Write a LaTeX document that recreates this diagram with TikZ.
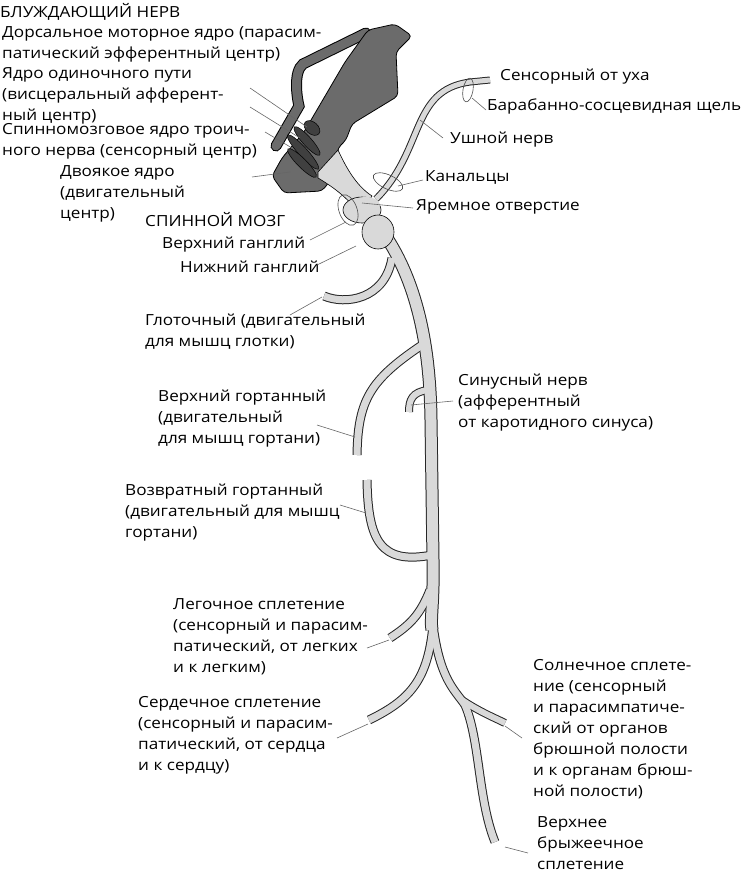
\documentclass[tikz,border=0pt]{standalone}
\usepackage{fontspec}
\setmainfont[FakeStretch=1.12]{Open Sans}
\begin{document}
\begin{tikzpicture}[x=1pt,y=-1pt,
 lab/.style={anchor=north west,inner sep=0pt,align=left,font=\fontsize{15.3}{21}\selectfont},
 lead/.style={draw=black!60,line width=0.6pt},
 nout/.style={line width=#1+2pt,draw=black!85,line cap=butt},
 nin/.style={line width=#1,draw=black!15,line cap=butt},
 dark/.style={fill=black!58,draw=black,line width=0.8pt,rounded corners=4pt}]
\useasboundingbox (0,0) rectangle (742,872);
% hook
\draw[line width=11pt,black,line cap=round] (366,33)--(303,64)..controls(293,72)and(297,98)..(299,106)--(276,146);
\draw[line width=9pt,black!58,line cap=round] (366,33)--(303,64)..controls(293,72)and(297,98)..(299,106)--(276,146);
% brain body
\draw[dark] (368,30)--(395,24)--(412,36)--(396,52)--(398,96)--(352,124)--(346,140)--(338,148)--(334,176)--(322,191)--(284,193)--(272,176)--(282,158)--(304,132)--(345,62)--cycle;
% light nerve root
\draw[fill=black!15,draw=black,line width=0.6pt] (318,172)--(338,150)..controls(345,165)and(355,185)..(372,196)--(360,215)..controls(350,200)and(335,188)..(318,178)--cycle;
\foreach \p/\a/\r/\s in {{(312,128)}/-40/9/6,{(307,141)}/-48/19/4.5,{(303,152)}/-48/23/4.5,{(302,163)}/-45/20/4.5}
 \draw[fill=black!75,draw=black,line width=0.5pt] \p ellipse[x radius=\r,y radius=\s,rotate=\a];
% ear nerve
\draw[nout=5pt] (376,199)..controls(425,150)and(410,90)..(470,82)--(490,80);
\draw[nin=5pt] (376,199)..controls(425,150)and(410,90)..(470,82)--(490,80);
% trunk and branches
\def\trunk{(385,235)..controls(415,280)and(430,340)..(431,420)--(433,560)..controls(434,600)and(430,620)..(432,630)}
\def\bphar{(392,258)..controls(385,300)and(345,305)..(324,296)}
\def\bsl{(422,345)..controls(370,380)and(358,400)..(357,455)}
\def\bsin{(428,390)..controls(412,392)and(409,400)..(409,412)}
\def\brec{(432,555)..controls(380,565)and(368,540)..(367,480)}
\def\bpul{(430,590)..controls(420,615)and(410,625)..(390,638)}
\def\bcard{(433,625)..controls(428,680)and(410,700)..(369,720)}
\def\bmain{(433,625)..controls(440,680)and(455,690)..(465,705)..controls(480,740)and(478,800)..(495,842)}
\def\bsol{(462,700)..controls(480,712)and(495,718)..(505,723)}
\foreach \w/\pp in {11pt/\trunk,7pt/\bphar,7pt/\bsl,6pt/\bsin,7pt/\brec,7pt/\bpul,7pt/\bcard,7pt/\bmain,6pt/\bsol}{\draw[nout=\w] \pp;}
\foreach \w/\pp in {11pt/\trunk,7pt/\bphar,7pt/\bsl,6pt/\bsin,7pt/\brec,7pt/\bpul,7pt/\bcard,7pt/\bmain,6pt/\bsol}{\draw[nin=\w] \pp;}
% ganglia
\draw[fill=black!15,draw=black,line width=0.6pt] (362,210) ellipse[x radius=19,y radius=13];
\draw[fill=black!15,draw=black,line width=0.6pt] (378,232) ellipse[x radius=16,y radius=17];
\fill[black!15] (366,205) ellipse[x radius=14,y radius=8];
% loops
\draw[black!70,line width=0.6pt] (468,90) ellipse[x radius=5,y radius=12,rotate=-10];
\draw[black!70,line width=0.6pt] (388,182) ellipse[x radius=16,y radius=7,rotate=-25];
\draw[black!70,line width=0.6pt] (348,210) ellipse[x radius=9,y radius=16,rotate=20];
% labels
\node[lab] (l0) at (0,3) {БЛУЖДАЮЩИЙ НЕРВ};
\node[lab] (l1) at (2,26) {Дорсальное моторное ядро (парасим-\\патический эфферентный центр)};
\node[lab] (l2) at (2,67) {Ядро одиночного пути\\(висцеральный афферент-\\ный центр)};
\node[lab] (l3) at (2,123) {Спинномозговое ядро троич-\\ного нерва (сенсорный центр)};
\node[lab] (l4) at (60,165) {Двоякое ядро\\(двигательный\\центр)};
\node[lab] (l5) at (145,212) {СПИННОЙ МОЗГ};
\node[lab] (l6) at (162,237) {Верхний ганглий};
\node[lab] (l7) at (180,261) {Нижний ганглий};
\node[lab] (l8) at (145,314) {Глоточный (двигательный\\для мышц глотки)};
\node[lab] (l9) at (158,390) {Верхний гортанный\\(двигательный\\для мышц гортани)};
\node[lab] (l10) at (125,484) {Возвратный гортанный\\(двигательный для мышц\\гортани)};
\node[lab] (l11) at (173,598) {Легочное сплетение\\(сенсорный и парасим-\\патический, от легких\\и к легким)};
\node[lab] (l12) at (138,696) {Сердечное сплетение\\(сенсорный и парасим-\\патический, от сердца\\и к сердцу)};
\node[lab] (r1) at (500,69) {Сенсорный от уха};
\node[lab] (r2) at (487,99) {Барабанно-сосцевидная щель};
\node[lab] (r3) at (450,132) {Ушной нерв};
\node[lab] (r4) at (425,170) {Канальцы};
\node[lab] (r5) at (416,199) {Яремное отверстие};
\node[lab] (r6) at (458,374) {Синусный нерв\\(афферентный\\от каротидного синуса)};
\node[lab] (r7) at (533,659) {Солнечное сплете-\\ние (сенсорный\\и парасимпатиче-\\ский от органов\\брюшной полости\\и к органам брюш-\\ной полости)};
\node[lab] (r8) at (537,816) {Верхнее\\брыжеечное\\сплетение};
% leader lines
\draw[lead] (250,88)--(307,127);
\draw[lead] (250,107)--(300,138);
\draw[lead] (265,132)--(292,148);
\draw[lead] (252,177)--(290,172);
\draw[lead] (472,98)--(486,110);
\draw[lead] (420,120)--(443,138);
\draw[lead] (398,186)--(423,180);
\draw[lead] (362,203)--(413,208);
\draw[lead] (310,240)--(346,222);
\draw[lead] (317,265)--(356,246);
\draw[lead] (290,315)--(322,297);
\draw[lead] (317,425)--(355,437);
\draw[lead] (411,405)--(453,401);
\draw[lead] (340,505)--(366,513);
\draw[lead] (367,648)--(389,640);
\draw[lead] (337,738)--(368,724);
\draw[lead] (505,726)--(522,738);
\draw[lead] (505,847)--(528,853);
\end{tikzpicture}
\end{document}
